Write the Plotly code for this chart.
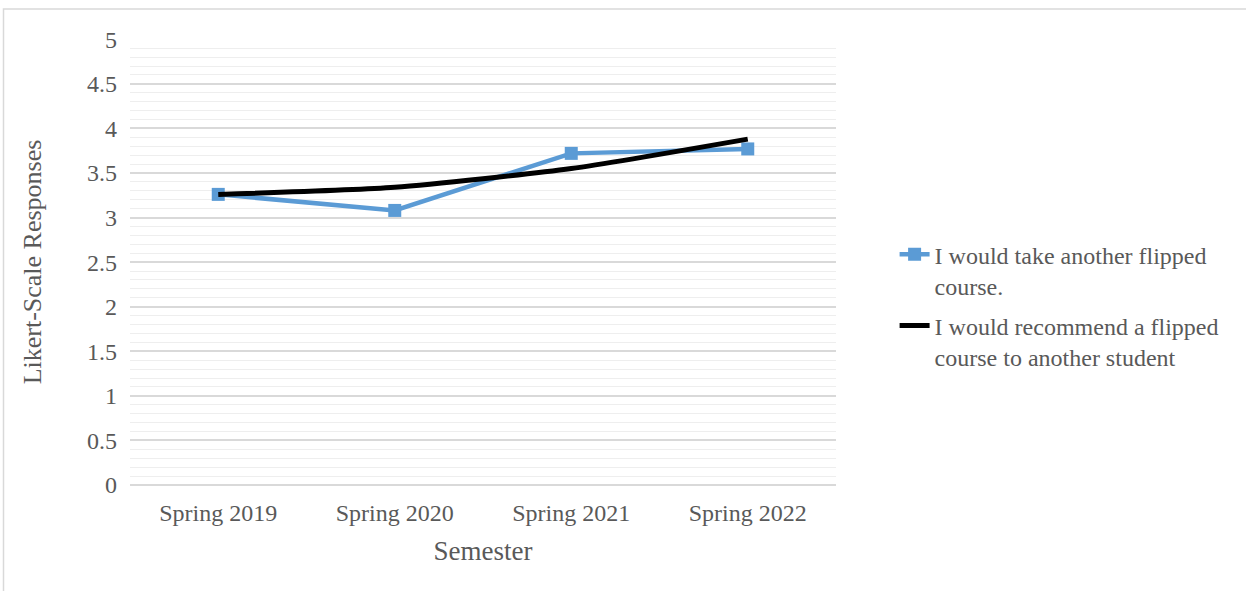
import plotly.graph_objects as go

semesters = ["Spring 2019", "Spring 2020", "Spring 2021", "Spring 2022"]
take_another = [3.26, 3.08, 3.72, 3.77]
recommend = [3.26, 3.34, 3.55, 3.88]
series_names = ["I would take another flipped<br>course.",
                "I would recommend a flipped<br>course to another student"]
y_ticks = [0, 0.5, 1, 1.5, 2, 2.5, 3, 3.5, 4, 4.5, 5]

FONT = "Liberation Serif, Times New Roman, serif"
TXT = "#595959"

fig = go.Figure()
fig.add_trace(go.Scatter(
    x=semesters, y=take_another, name=series_names[0], mode="lines+markers",
    legendgroup="a",
    line=dict(color="#5B9BD5", width=4.5),
    marker=dict(symbol="square", size=13, color="#5B9BD5"),
))
fig.add_trace(go.Scatter(
    x=semesters, y=recommend, name=series_names[1], mode="lines",
    legendgroup="b",
    line=dict(color="#000000", width=5, shape="spline", smoothing=0.6),
))

fig.update_layout(
    width=1246, height=591,
    margin=dict(l=130, r=410, t=39, b=106),
    paper_bgcolor="white", plot_bgcolor="white",
    font=dict(family=FONT, color=TXT, size=24),
    showlegend=True,
    legend=dict(x=1.083, y=0.567, xanchor="left", yanchor="top", valign="top",
                font=dict(family=FONT, size=24, color=TXT),
                tracegroupgap=6, bgcolor="rgba(0,0,0,0)"),
    xaxis=dict(
        type="category", range=[-0.5, 3.5], showgrid=False, zeroline=False,
        showline=False, ticks="", tickfont=dict(size=24, color=TXT),
        ticklabelstandoff=11,
        title=dict(text="Semester", font=dict(size=27, color=TXT), standoff=16),
    ),
    yaxis=dict(
        range=[0, 5.003], tickvals=y_ticks, ticktext=[f"{v:g}" for v in y_ticks],
        showgrid=True, gridcolor="#d9d9d9", gridwidth=1.5,
        minor=dict(dtick=0.1, showgrid=True, gridcolor="#eeeeee", gridwidth=1.2),
        zeroline=True, zerolinecolor="#d9d9d9", zerolinewidth=1.5,
        showline=False, ticks="", ticklabelstandoff=12,
        tickfont=dict(size=24, color=TXT),
        title=dict(text="Likert-Scale Responses", font=dict(size=26, color=TXT), standoff=37),
    ),
    shapes=[dict(type="rect", xref="paper", yref="paper",
                 x0=(3.5 - 130) / 706, x1=1.7, y0=-0.4, y1=(485 - 9) / 446,
                 line=dict(color="#d9d9d9", width=1.5), layer="below")],
)

fig.write_html("out.html")
